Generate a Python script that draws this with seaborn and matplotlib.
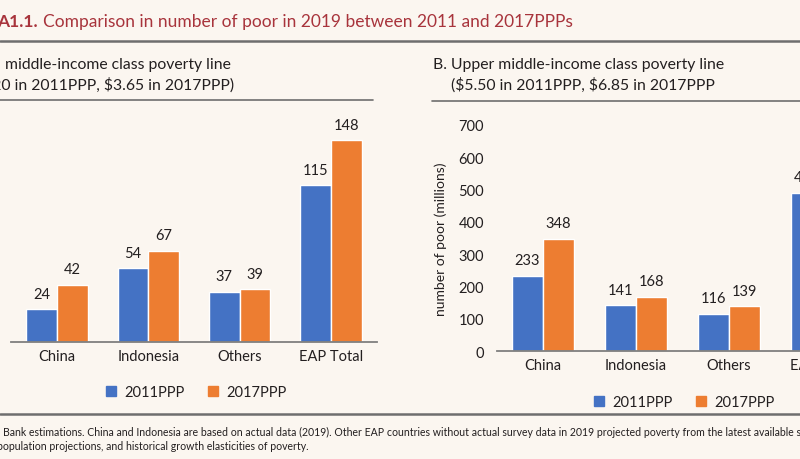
import matplotlib
matplotlib.use("Agg")
import matplotlib.pyplot as plt
import seaborn as sns
import pandas as pd
from matplotlib.lines import Line2D

# data
categories = ["China", "Indonesia", "Others", "EAP Total"]
series = ["2011PPP", "2017PPP"]
lower_2011 = [24, 54, 37, 115]
lower_2017 = [42, 67, 39, 148]
upper_2011 = [233, 141, 116, 490]
upper_2017 = [348, 168, 139, 655]
yticks_b = [0, 100, 200, 300, 400, 500, 600, 700]

BG = "#FBF6F0"
BLUE = "#4472C4"
ORANGE = "#ED7D31"
RED = "#A8343C"
TXT = "#231F20"
RULE = "#6E6E6E"

sns.set_theme(style="white")
plt.rcParams["font.family"] = ["Lato", "DejaVu Sans"]

W, H = 800, 460
fig = plt.figure(figsize=(8, 4.6), dpi=100, facecolor=BG)


def fx(px):
    return px / W


def fy(py):
    return 1 - py / H


def make_df(a, b):
    return pd.DataFrame({
        "category": categories * 2,
        "series": [series[0]] * 4 + [series[1]] * 4,
        "value": a + b,
    })


def draw_panel(ax, df, ymax, show_y):
    sns.barplot(data=df, x="category", y="value", hue="series",
                palette=[BLUE, ORANGE], width=0.67, saturation=1,
                ax=ax, legend=False)
    ax.set_facecolor(BG)
    ax.set_xlim(-0.5, 3.5)
    ax.set_ylim(0, ymax)
    ax.set_xlabel("")
    for s in ["top", "right", "left"]:
        ax.spines[s].set_visible(False)
    ax.spines["bottom"].set_color("#7F7F7F")
    ax.spines["bottom"].set_linewidth(1.3)
    ax.tick_params(axis="x", length=0, pad=5, labelsize=10.5, colors=TXT)
    ax.tick_params(axis="y", length=0, pad=9, labelsize=10.5, colors=TXT)
    if show_y:
        ax.set_yticks(yticks_b)
        ax.set_ylabel("number of poor (millions)", fontsize=10, color=TXT,
                      labelpad=8)
    else:
        ax.set_yticks([])
        ax.set_ylabel("")
    for c in ax.containers:
        ax.bar_label(c, padding=6, fontsize=10.5, color=TXT, clip_on=False)


# panel A (axes extends a bit off canvas to the left like the crop)
axA = fig.add_axes([fx(11.3), fy(343), fx(365.3), (343 - 125) / H])
draw_panel(axA, make_df(lower_2011, lower_2017), 160, False)

# panel B (right part falls outside the crop)
axB = fig.add_axes([fx(496.5), fy(352), fx(372), (352 - 126) / H])
draw_panel(axB, make_df(upper_2011, upper_2017), 700, True)

# legends
handles = [plt.Rectangle((0, 0), 1, 1, color=BLUE),
           plt.Rectangle((0, 0), 1, 1, color=ORANGE)]
for cx, cy in [(196, 393), (684, 403)]:
    fig.legend(handles, series, loc="center", ncol=2, frameon=False,
               bbox_to_anchor=(fx(cx), fy(cy)), fontsize=10.5,
               handlelength=0.7, handleheight=0.7, handletextpad=0.55,
               columnspacing=1.6, labelcolor=TXT)

# title
fig.text(fx(-3), fy(22), "A1.1.", fontsize=12.5, fontweight="bold",
         color=RED, va="center", ha="left")
fig.text(fx(43), fy(22), "Comparison in number of poor in 2019 between 2011 and 2017PPPs",
         fontsize=12.5, color=RED, va="center", ha="left")

# subtitles
fig.text(fx(5), fy(65), "middle-income class poverty line",
         fontsize=11.3, color=TXT, va="center", ha="left")
fig.text(fx(234), fy(85), r"(\$3.20 in 2011PPP, \$3.65 in 2017PPP)",
         fontsize=11.3, color=TXT, va="center", ha="right")
fig.text(fx(433), fy(65), "B. Upper middle-income class poverty line",
         fontsize=11.3, color=TXT, va="center", ha="left")
fig.text(fx(451), fy(85), r"(\$5.50 in 2011PPP, \$6.85 in 2017PPP",
         fontsize=11.3, color=TXT, va="center", ha="left")

# rules
for y, x0, x1, lw in [(42, 0, 800, 1.8), (101, 0, 373, 1.2),
                      (102, 432, 800, 1.2), (415, 0, 800, 1.8)]:
    fig.add_artist(Line2D([fx(x0), fx(x1)], [fy(y), fy(y)],
                          color=RULE, linewidth=lw))

# footnote
fig.text(fx(3), fy(432),
         "Bank estimations. China and Indonesia are based on actual data (2019). "
         "Other EAP countries without actual survey data in 2019 projected poverty "
         "from the latest available surveys,",
         fontsize=7.6, color=TXT, va="center", ha="left")
fig.text(fx(-3), fy(447),
         "population projections, and historical growth elasticities of poverty.",
         fontsize=7.6, color=TXT, va="center", ha="left")

fig.savefig("out.png", dpi=100, facecolor=BG)
